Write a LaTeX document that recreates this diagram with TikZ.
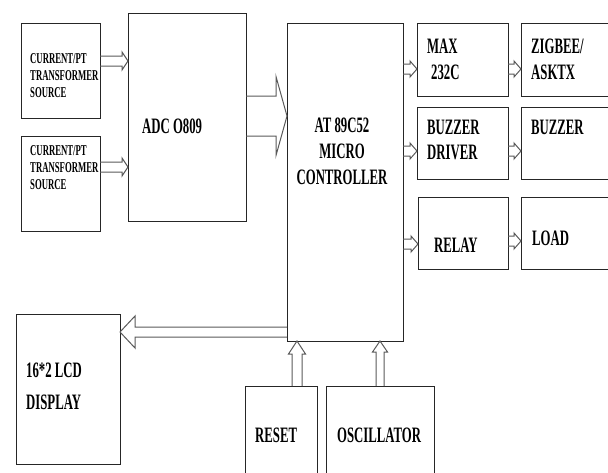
\documentclass[tikz,border=0pt]{standalone}
\usepackage{fontspec}
\newfontfamily\lblfont{Liberation Serif}[FakeStretch=0.58]
\usetikzlibrary{calc,fit}

% hollow block arrows: from, tip, half shaft, half head, head base offset
\newcommand{\hollowh}[5]{%
  \draw[arrowline] ($(#1)+(0,#3)$) -- ($(#2)+(#5,#3)$) -- ($(#2)+(#5,#4)$)
    -- (#2) -- ($(#2)+(#5,-#4)$) -- ($(#2)+(#5,-#3)$) -- ($(#1)+(0,-#3)$);}
\newcommand{\hollowv}[5]{%
  \draw[arrowline] ($(#1)+(#3,0)$) -- ($(#2)+(#3,#5)$) -- ($(#2)+(#4,#5)$)
    -- (#2) -- ($(#2)+(-#4,#5)$) -- ($(#2)+(-#3,#5)$) -- ($(#1)+(-#3,0)$);}

\begin{document}
\begin{tikzpicture}[x=1pt, y=-1pt,
    blk/.style={draw=black!85, line width=1pt, inner sep=0pt, outer sep=0pt},
    arrowline/.style={draw=black!65, line width=1pt, line join=miter},
    lbl/.style={font=\lblfont\bfseries\fontsize{22}{26}\selectfont, inner sep=0pt, align=left, anchor=west},
    srclbl/.style={font=\lblfont\bfseries\fontsize{15}{17}\selectfont, inner sep=0pt, align=left, anchor=west}]
  \useasboundingbox (0,0) rectangle (608,472);

  % Blocks
  \node[blk, fit={(21,23) (100,118)}] (src1) {};
  \node[blk, fit={(21,136) (100,231)}] (src2) {};
  \node[blk, fit={(128,13) (246,221)}] (adc) {};
  \node[blk, fit={(287,23) (403,341)}] (mcu) {};
  \node[blk, fit={(417,23) (508,96)}] (max) {};
  \node[blk, fit={(521,23) (615,96)}] (zig) {};
  \node[blk, fit={(417,107) (508,179)}] (bdrv) {};
  \node[blk, fit={(521,107) (615,179)}] (buz) {};
  \node[blk, fit={(418,197) (508,269)}] (relay) {};
  \node[blk, fit={(521,197) (615,269)}] (load) {};
  \node[blk, fit={(16,314) (120,464)}] (lcd) {};
  \node[blk, fit={(245,386) (317,480)}] (reset) {};
  \node[blk, fit={(326,386) (434,480)}] (osc) {};

  % Labels
  \node[srclbl] (src1txt) at (30,76) {CURRENT/PT\\TRANSFORMER\\SOURCE};
  \node[srclbl] (src2txt) at (30,168) {CURRENT/PT\\TRANSFORMER\\SOURCE};
  \node[lbl] (adctxt) at (142,126) {ADC O809};
  \node[lbl, align=center, anchor=center] (mcutxt) at (342,151) {AT 89C52\\MICRO\\CONTROLLER};
  \node[lbl] (maxtxt) at (427,59) {MAX\\\hspace*{4pt}232C};
  \node[lbl] (zigtxt) at (531,59) {ZIGBEE/\\ASKTX};
  \node[lbl, font=\lblfont\bfseries\fontsize{22}{25}\selectfont] (bdrvtxt) at (427,139.5) {BUZZER\\DRIVER};
  \node[lbl] (buztxt) at (531,127) {BUZZER};
  \node[lbl] (relaytxt) at (434,245) {RELAY};
  \node[lbl] (loadtxt) at (532,238) {LOAD};
  \node[lbl, font=\lblfont\bfseries\fontsize{22}{32}\selectfont] (lcdtxt) at (26,386) {16*2 LCD\\DISPLAY};
  \node[lbl] (resettxt) at (255,435) {RESET};
  \node[lbl] (osctxt) at (337,435) {OSCILLATOR};

  % Arrow end points
  \coordinate (s1a) at (src1.east |- 0,61);  \coordinate (s1b) at (adc.west |- 0,61);
  \coordinate (s2a) at (src2.east |- 0,167); \coordinate (s2b) at (adc.west |- 0,167);
  \coordinate (ada) at (adc.east |- 0,116);  \coordinate (adb) at (mcu.west |- 0,116);
  \coordinate (m1a) at (mcu.east |- 0,69);   \coordinate (m1b) at (max.west |- 0,69);
  \coordinate (m2a) at (max.east |- 0,69);   \coordinate (m2b) at (zig.west |- 0,69);
  \coordinate (b1a) at (mcu.east |- 0,151);  \coordinate (b1b) at (bdrv.west |- 0,151);
  \coordinate (b2a) at (bdrv.east |- 0,151); \coordinate (b2b) at (buz.west |- 0,151);
  \coordinate (r1a) at (mcu.east |- 0,244);  \coordinate (r1b) at (relay.west |- 0,244);
  \coordinate (r2a) at (relay.east |- 0,241); \coordinate (r2b) at (load.west |- 0,241);
  \coordinate (la) at (mcu.west |- 0,332);   \coordinate (lb) at (lcd.east |- 0,332);
  \coordinate (rsa) at (reset.north -| 297,0); \coordinate (rsb) at (mcu.south -| 297,0);
  \coordinate (osa) at (osc.north -| 380,0);   \coordinate (osb) at (mcu.south -| 380,0);

  % Arrows
  \hollowh{s1a}{s1b}{5}{9}{-6}
  \hollowh{s2a}{s2b}{5}{9}{-6}
  \hollowh{ada}{adb}{20}{39.5}{-11}
  \hollowh{m1a}{m1b}{5}{8}{-7}
  \hollowh{m2a}{m2b}{5}{8}{-7}
  \hollowh{b1a}{b1b}{5}{8}{-7}
  \hollowh{b2a}{b2b}{5}{8}{-7}
  \hollowh{r1a}{r1b}{5}{8}{-7}
  \hollowh{r2a}{r2b}{5}{8}{-7}
  \hollowh{la}{lb}{5}{16}{15}
  \hollowv{rsa}{rsb}{5}{8.5}{13}
  \hollowv{osa}{osb}{4}{7.5}{11}
\end{tikzpicture}
\end{document}
